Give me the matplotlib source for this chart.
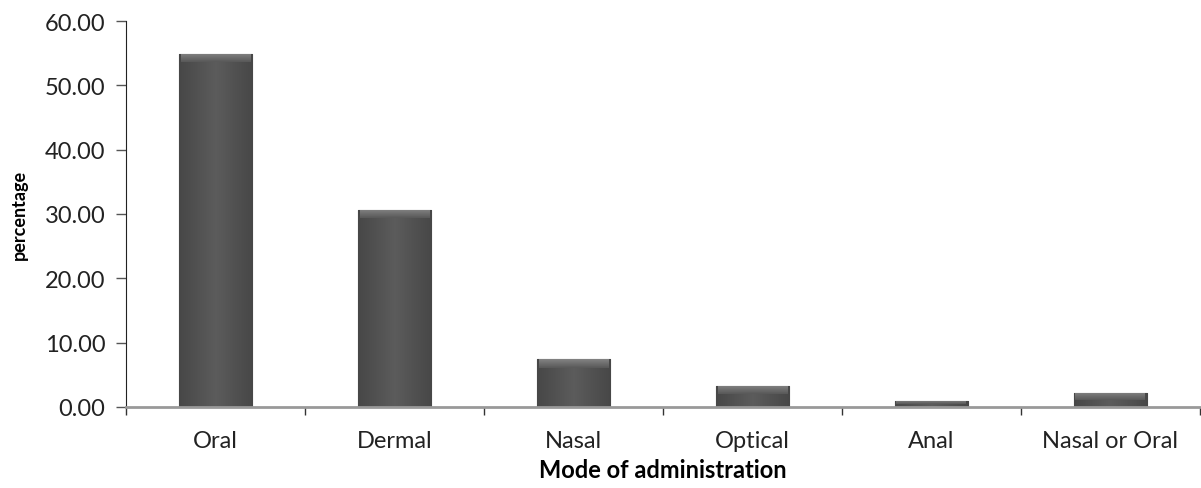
import numpy as np
import matplotlib
matplotlib.use('Agg')
from matplotlib import pyplot as plt

# dados
modos = ['Oral', 'Dermal', 'Nasal', 'Optical', 'Anal', 'Nasal or Oral']
percentagem = [54.9, 30.6, 7.4, 3.3, 0.9, 2.2]
y_ticks = [0, 10, 20, 30, 40, 50, 60]

plt.rcParams['font.family'] = ['Lato', 'DejaVu Sans']

fig = plt.figure(figsize=(12.01, 4.89), dpi=100)
ax = fig.add_axes([0.105, 0.166, 0.894, 0.789])

x = np.arange(len(modos))
largura = 0.41
barras = ax.bar(x, percentagem, width=largura, color='#555555',
                edgecolor='#383838', linewidth=0.8, zorder=2)

# gradiente horizontal (bordas mais escuras) para imitar o bisel
t = np.linspace(0, 1, 64)
nivel = 0.36 - 0.08 * np.abs(t - 0.5) * 2
corpo = np.dstack([nivel, nivel, nivel]).reshape(1, -1, 3)
# faixa superior mais clara, escurecendo para baixo
tv = np.linspace(1, 0, 16).reshape(-1, 1)
nivel_topo = 0.35 + 0.16 * tv * np.ones((1, 64))
topo_img = np.dstack([nivel_topo, nivel_topo, nivel_topo])

for b in barras:
    x0, y0 = b.get_x(), b.get_y()
    w, h = b.get_width(), b.get_height()
    im = ax.imshow(corpo, aspect='auto', extent=[x0, x0 + w, y0, y0 + h],
                   zorder=2.5, interpolation='bilinear')
    im.set_clip_path(b)
    alt = min(1.3, h * 0.55)
    im2 = ax.imshow(topo_img, aspect='auto',
                    extent=[x0 + 0.01, x0 + w - 0.01, y0 + h - alt, y0 + h],
                    zorder=2.6, interpolation='bilinear')
    im2.set_clip_path(b)

ax.set_xlim(-0.5, len(modos) - 0.5)
ax.set_ylim(0, 60)
ax.set_yticks(y_ticks)
ax.set_yticklabels(['%.2f' % v for v in y_ticks], fontsize=17, color='#222222')
ax.set_xticks(x)
ax.set_xticklabels(modos, fontsize=17, color='#222222')
ax.set_xticks(np.arange(len(modos) + 1) - 0.5, minor=True)

ax.tick_params(axis='y', direction='out', length=7, width=1, color='#555555', pad=8)
ax.tick_params(axis='x', which='major', length=0, pad=17)
ax.tick_params(axis='x', which='minor', direction='out', length=6, width=1, color='#333333')

ax.spines['top'].set_visible(False)
ax.spines['right'].set_visible(False)
ax.spines['left'].set_color('#222222')
ax.spines['bottom'].set_color('#999999')
ax.spines['bottom'].set_linewidth(2)

ax.set_ylabel('percentage', fontsize=13, fontweight='bold', labelpad=12)
ax.set_xlabel('Mode of administration', fontsize=17, fontweight='bold', labelpad=5)

fig.savefig('out.png', dpi=100)
